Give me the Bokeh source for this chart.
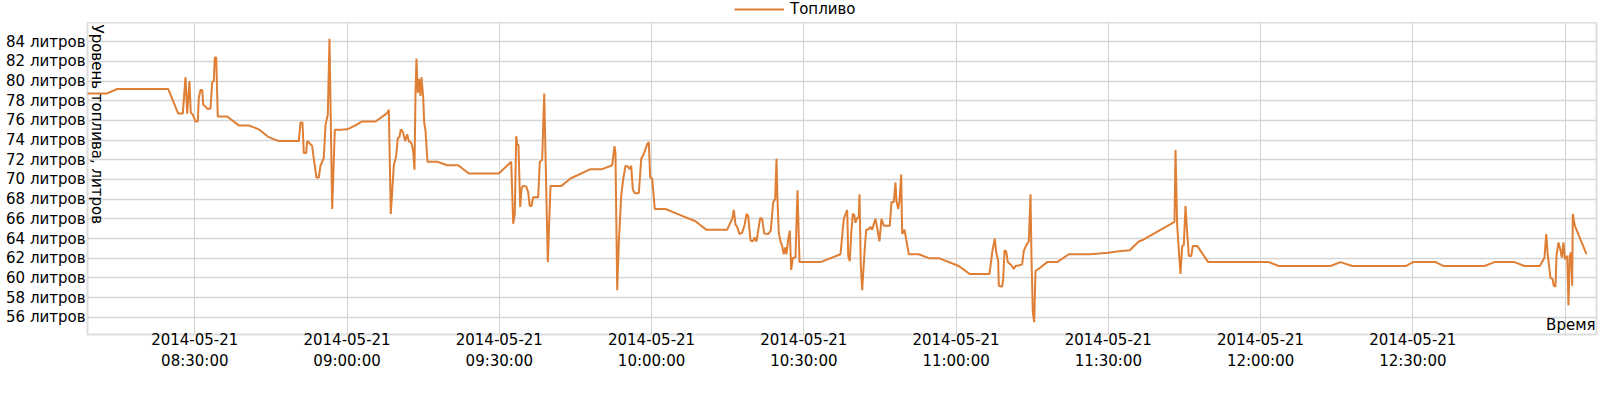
import math
import pandas as pd
from bokeh.plotting import figure
from bokeh.layouts import column
from bokeh.models import FixedTicker, DatetimeTickFormatter, Label, Legend, LegendItem, Range1d
from bokeh.embed import file_html
from bokeh.resources import INLINE

DAY = "2014-05-21"
series_name = "Топливо"
x_title = "Время"
y_title = "Уровень топлива, литров"
unit = "литров"

# minutes after 08:00 on DAY
minutes = [
    8.80, 12.74, 14.71, 24.76, 26.73, 27.64, 28.17, 28.50, 28.95, 29.21,
    29.60, 30.14, 30.59, 30.79, 31.12, 31.46, 31.66, 32.11, 32.44, 33.09,
    33.43, 33.74, 33.94, 34.22, 34.53, 36.38, 38.67, 40.64, 42.61, 44.58,
    46.55, 50.49, 50.83, 51.22, 51.48, 51.95, 52.15, 52.60, 53.13, 53.45,
    53.98, 54.43, 54.77, 55.42, 55.75, 56.21, 56.54, 57.07, 57.59, 58.71,
    60.03, 61.66, 62.98, 65.60, 67.91, 68.23, 68.62, 69.21, 69.68, 70.00,
    70.33, 70.59, 70.99, 71.46, 71.85, 72.17, 72.70, 73.03, 73.29, 73.49,
    73.68, 73.94, 74.21, 74.47, 74.67, 75.01, 75.20, 75.46, 75.85, 77.76,
    79.73, 81.90, 83.99, 89.90, 92.35, 92.74, 93.05, 93.33, 93.58, 93.78,
    94.12, 94.37, 94.63, 95.30, 95.69, 96.01, 96.34, 96.68, 97.66, 97.98,
    98.45, 98.85, 99.56, 100.09, 102.25, 104.03, 107.97,
    110.27, 112.24, 112.70, 112.89, 113.23, 113.55, 114.02, 114.41, 114.87, 115.32,
    115.71, 115.99, 116.30, 116.70, 117.49, 117.96, 118.47, 119.14, 119.46, 119.73,
    120.13, 120.64, 122.75, 126.04, 128.66, 130.77, 134.90, 135.89, 136.21, 136.54,
    136.87, 137.33, 137.86, 138.37, 138.71, 139.04, 139.50, 139.95, 140.28, 140.68,
    141.01, 141.41, 141.80, 142.19, 142.98, 143.49, 143.97, 144.36, 144.62, 144.81,
    145.07, 145.41, 145.74, 146.05, 146.33, 146.59, 146.92, 147.24, 147.51, 147.83,
    148.36, 148.76, 149.15, 153.29, 157.23,
    157.88, 158.55, 158.75, 159.06, 159.34, 159.65, 159.93, 160.18, 160.52, 160.83,
    160.97, 161.23, 161.50, 161.96, 162.29, 162.81, 163.14, 163.47, 164.12, 164.52,
    164.91, 165.30, 165.76, 166.94, 167.28, 167.73, 168.06, 168.26, 168.60, 168.85,
    169.19, 169.38, 169.84, 170.17, 170.69, 172.66, 174.63, 176.60, 180.54, 182.65,
    186.59, 187.12, 187.63, 187.91, 188.30, 188.42, 189.09, 189.29, 189.55, 189.88,
    190.19, 190.86, 191.38, 191.71, 192.69, 193.03, 193.35, 193.82, 194.33, 194.67,
    194.87, 195.12, 195.40, 195.65, 196.64, 197.96, 199.93, 202.22, 206.49,
    209.98, 212.07, 214.23, 216.01, 216.99, 223.04, 223.24, 223.57, 224.22, 224.56,
    224.87, 225.21, 225.54, 225.86, 226.33, 226.65, 227.51, 229.68, 241.62, 243.59,
    253.78,
    255.75, 258.05, 268.56, 270.07, 274.47, 276.10, 284.12, 286.09, 290.03, 292.00,
    295.02, 295.94, 296.28, 296.59, 297.13, 297.52, 297.77, 298.11, 298.31, 298.70,
    299.10, 299.35, 299.69, 299.94, 300.42, 300.67, 300.93, 301.20, 301.40, 301.52,
    301.91, 304.22,
]

litres = [
    78.75, 78.75, 79.2, 79.2, 76.7, 76.7, 80.4, 76.7, 80.0, 76.8,
    76.6, 75.9, 75.9, 78.3, 79.1, 79.1, 77.6, 77.4, 77.2, 77.2,
    79.9, 80.0, 82.4, 82.4, 76.4, 76.4, 75.5, 75.5, 75.1, 74.3,
    73.9, 73.9, 75.8, 75.8, 72.7, 72.7, 73.9, 73.7, 73.4, 72.1,
    70.2, 70.2, 71.4, 72.2, 75.5, 76.6, 84.3, 67.0, 75.05, 75.05,
    75.1, 75.5, 75.9, 75.9, 76.75, 77.1, 66.5, 71.4, 72.4, 74.2,
    74.3, 75.1, 74.85, 73.9, 74.6, 73.9, 73.7, 72.9, 71.0, 78.8,
    82.3, 78.8, 80.2, 78.5, 80.4, 78.3, 75.8, 74.95, 71.8, 71.8,
    71.45, 71.45, 70.6, 70.6, 71.8, 65.5, 66.5, 74.4, 73.5, 73.5,
    67.2, 69.0, 69.35, 69.3, 68.7, 67.3, 67.3, 68.2, 68.2, 71.8,
    72.0, 78.75, 61.6, 69.35, 69.35, 70.1, 71.05,
    71.05, 71.45, 73.4, 72.7, 58.75, 63.6, 68.3, 70.0, 71.4, 71.3,
    71.05, 71.4, 69.0, 68.6, 68.6, 72.1, 72.6, 73.6, 73.8, 70.2,
    70.1, 67.0, 67.0, 66.3, 65.75, 64.9, 64.9, 66.0, 66.9, 65.4,
    65.2, 64.45, 64.6, 65.45, 66.5, 66.3, 63.8, 63.7, 64.1, 63.7,
    64.8, 66.1, 66.0, 64.5, 64.45, 64.8, 67.7, 68.0, 72.1, 68.0,
    64.6, 63.7, 63.25, 62.4, 63.1, 62.4, 63.9, 64.8, 60.8, 62.0,
    62.1, 68.9, 61.6, 61.6, 62.4,
    66.0, 66.9, 62.25, 61.7, 64.45, 66.5, 66.4, 65.6, 66.1, 66.1,
    68.5, 61.2, 58.75, 62.6, 64.9, 64.95, 65.2, 64.9, 66.0, 64.9,
    63.7, 66.0, 65.3, 65.3, 67.7, 67.7, 69.7, 67.8, 67.0, 67.8,
    70.5, 64.45, 64.9, 63.9, 62.4, 62.4, 62.0, 62.0, 61.2, 60.4,
    60.4, 62.6, 64.0, 62.6, 61.7, 59.2, 59.1, 59.9, 62.8, 62.7,
    61.6, 61.3, 60.9, 61.2, 61.3, 61.4, 62.75, 63.3, 63.7, 68.5,
    61.9, 56.5, 55.5, 60.7, 61.05, 61.6, 61.6, 62.4, 62.4,
    62.55, 62.7, 62.8, 63.7, 63.9, 65.7, 73.0, 65.3, 60.4, 63.25,
    63.3, 67.3, 64.6, 62.25, 62.2, 63.25, 63.25, 61.6, 61.6, 61.2,
    61.2,
    61.6, 61.2, 61.2, 61.6, 61.6, 61.2, 61.2, 61.6, 61.6, 61.2,
    61.2, 62.05, 64.45, 62.3, 60.0, 59.9, 59.2, 59.1, 62.25, 63.6,
    62.8, 62.05, 63.6, 61.9, 62.25, 57.2, 62.25, 62.6, 59.2, 66.5,
    65.3, 62.4,
]

x_tick_times = ["08:30:00", "09:00:00", "09:30:00", "10:00:00", "10:30:00",
                "11:00:00", "11:30:00", "12:00:00", "12:30:00"]
x_grid_times = x_tick_times + ["13:00:00"]
y_ticks = list(range(56, 86, 2))

base = pd.Timestamp(DAY + " 08:00:00")
epoch = pd.Timestamp("1970-01-01")


def to_ms(ts):
    return (ts - epoch).total_seconds() * 1000.0


times = [base + pd.Timedelta(minutes=m) for m in minutes]
tick_ms = [to_ms(pd.Timestamp(DAY + " " + t)) for t in x_tick_times]
grid_ms = [to_ms(pd.Timestamp(DAY + " " + t)) for t in x_grid_times]

x_start = base + pd.Timedelta(minutes=8.86)
x_end = base + pd.Timedelta(minutes=306.19)
y_start, y_end = 54.24, 85.96

FONT = "DejaVu Sans"
FS = "15px"
LINE_COLOR = "#df7f35"

x_range = Range1d(x_start, x_end)

# ---- legend strip above the chart (same series, y-range chosen so no line shows) ----
lf = figure(width=1600, height=22, x_range=x_range, y_range=Range1d(0, 1),
            output_backend="svg", toolbar_location=None,
            x_axis_location=None, y_axis_location=None,
            min_border=0, min_border_left=0, min_border_right=0,
            min_border_top=0, min_border_bottom=0)
lf.grid.visible = False
lf.outline_line_color = None
lf.background_fill_color = "white"
lf.border_fill_color = "white"
swatch = lf.line(times, litres, line_color=LINE_COLOR, line_width=2)
legend = Legend(items=[LegendItem(label=series_name, renderers=[swatch])],
                location=(647, 4), orientation="horizontal",
                padding=0, margin=0, spacing=0,
                border_line_color=None, background_fill_alpha=0,
                glyph_width=50, glyph_height=14, label_height=14,
                label_standoff=6, label_text_font=FONT,
                label_text_font_size=FS, label_text_color="black")
lf.add_layout(legend)

# ---- main chart ----
p = figure(width=1600, height=370, x_axis_type="datetime",
           x_range=x_range, y_range=Range1d(y_start, y_end),
           output_backend="svg", toolbar_location=None,
           min_border_left=87, min_border_right=4, min_border_top=0,
           min_border_bottom=58)

p.outline_line_color = "#dddddd"
p.outline_line_width = 2
p.background_fill_color = "white"
p.border_fill_color = "white"

r = p.line(times, litres, line_color=LINE_COLOR, line_width=2)

fmt = "%Y-%m-%d\n%H:%M:%S"
p.xaxis.ticker = FixedTicker(ticks=tick_ms)
p.xaxis.formatter = DatetimeTickFormatter(
    milliseconds=fmt, seconds=fmt, minsec=fmt, minutes=fmt, hourmin=fmt,
    hours=fmt, days=fmt, months=fmt, years=fmt)
p.xgrid.ticker = FixedTicker(ticks=grid_ms)
p.yaxis.ticker = FixedTicker(ticks=y_ticks)
p.yaxis.major_label_overrides = {v: f"{v} {unit}" for v in y_ticks}

for ax in (p.xaxis[0], p.yaxis[0]):
    ax.axis_line_color = None
    ax.major_tick_line_color = None
    ax.minor_tick_line_color = None
    ax.major_tick_out = 0
    ax.major_tick_in = 0
    ax.major_label_text_font = FONT
    ax.major_label_text_font_size = FS
    ax.major_label_text_color = "black"
p.xaxis.major_label_standoff = -4
p.yaxis.major_label_standoff = 2

p.xgrid.grid_line_color = "#d2d2d2"
p.xgrid.grid_line_width = 1
p.ygrid.grid_line_color = "#d6d6d6"
p.ygrid.grid_line_width = 1.5

ylab = Label(x=x_start, y=y_end, x_offset=0, y_offset=-2, text=y_title,
             angle=-math.pi / 2, text_align="left", text_baseline="bottom",
             text_font=FONT, text_font_size=FS, text_color="black")
p.add_layout(ylab)

xlab = Label(x=x_end, y=y_start, x_offset=-1, y_offset=1, text=x_title,
             text_align="right", text_baseline="bottom",
             text_font=FONT, text_font_size=FS, text_color="black")
p.add_layout(xlab)

layout = column(lf, p, spacing=0)

open("out.html", "w").write(file_html(layout, INLINE))
